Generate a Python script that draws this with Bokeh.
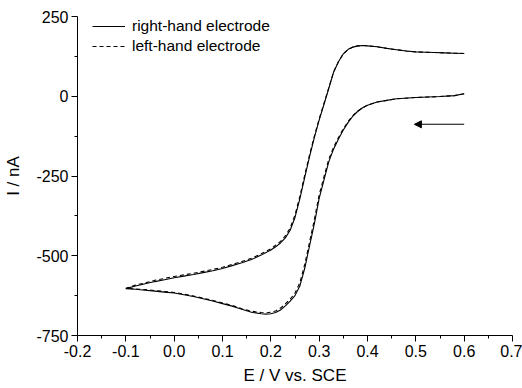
from bokeh.plotting import figure
from bokeh.models import (Range1d, FixedTicker, PrintfTickFormatter, Legend, LegendItem,
                          Arrow, NormalHead, ColumnDataSource)
from bokeh.embed import file_html
from bokeh.resources import INLINE

# ---- data ----
# potential sweep: 0.6 V -> -0.1 V (forward), then -0.1 V -> 0.6 V (reverse)
E_fwd = [0.60, 0.58, 0.55, 0.50, 0.46, 0.44, 0.42, 0.40, 0.39, 0.38, 0.37, 0.36, 0.35,
         0.34, 0.33, 0.32, 0.31, 0.30, 0.29, 0.28, 0.27, 0.26, 0.25, 0.24, 0.23, 0.22,
         0.21, 0.20, 0.19, 0.18, 0.16, 0.14, 0.12, 0.10, 0.08, 0.06, 0.04, 0.02, 0.00,
         -0.02, -0.04, -0.06, -0.08, -0.10]
I_right_fwd = [8, 2, -1, -4, -8, -13, -18, -28, -36, -47, -62, -82, -106,
               -134, -165, -205, -262, -320, -400, -470, -540, -595, -625, -642, -657, -670,
               -678, -682, -683, -682, -677, -668, -658, -650, -642, -635, -628, -622, -617,
               -614, -611, -608, -605, -603]
I_left_fwd = [8, 2, -1, -4, -8, -13, -18, -28, -36, -46, -60, -79, -102,
              -129, -159, -197, -252, -309, -387, -458, -528, -585, -617, -636, -651, -664,
              -673, -677, -679, -678, -674, -666, -656, -648, -640, -633, -626, -620, -615,
              -612, -609, -606, -604, -602]

E_rev = [-0.10, -0.08, -0.06, -0.04, -0.02, 0.00, 0.02, 0.04, 0.06, 0.08, 0.10, 0.12,
         0.14, 0.16, 0.18, 0.20, 0.21, 0.22, 0.23, 0.24, 0.25, 0.26, 0.27, 0.28, 0.29,
         0.30, 0.31, 0.32, 0.33, 0.34, 0.35, 0.36, 0.37, 0.38, 0.39, 0.40, 0.42, 0.44,
         0.46, 0.48, 0.50, 0.52, 0.54, 0.56, 0.58, 0.60]
I_right_rev = [-603, -595, -588, -581, -575, -569, -564, -559, -553, -547, -540, -531,
               -522, -512, -498, -482, -472, -460, -444, -420, -380, -322, -255, -190, -130,
               -75, -25, 25, 76, 108, 133, 147, 154, 158, 159, 158, 155, 150,
               146, 142, 139, 138, 137, 136, 135, 134]
I_left_rev = [-602, -592, -585, -577, -571, -565, -560, -555, -549, -543, -536, -527,
              -518, -508, -494, -478, -467, -455, -438, -413, -372, -314, -248, -184, -125,
              -71, -22, 27, 77, 109, 133, 147, 154, 158, 159, 158, 155, 150,
              146, 142, 139, 138, 137, 136, 135, 134]

series_labels = ["right-hand electrode", "left-hand electrode"]
x_title = "E / V vs. SCE"
y_title = "I / nA"
x_ticks = [-0.2, -0.1, 0.0, 0.1, 0.2, 0.3, 0.4, 0.5, 0.6, 0.7]
y_ticks = [-750, -500, -250, 0, 250]
arrow_E = [0.60, 0.497]
arrow_I = -88

FONT = "Liberation Sans"

p = figure(width=522, height=388, output_backend="svg", toolbar_location=None,
           x_range=Range1d(-0.2, 0.7), y_range=Range1d(-750, 250),
           min_border_left=77, min_border_right=10, min_border_top=16, min_border_bottom=53)
p.outline_line_color = None
p.xgrid.visible = False
p.ygrid.visible = False
p.background_fill_color = "white"
p.border_fill_color = "white"

E_r = E_fwd + E_rev[1:]
I_r = I_right_fwd + I_right_rev[1:]
I_l = I_left_fwd + I_left_rev[1:]
src = ColumnDataSource(dict(E=E_r, Ir=I_r, Il=I_l))

r1 = p.line("E", "Ir", source=src, line_color="black", line_width=1.1)
r2 = p.line("E", "Il", source=src, line_color="black", line_width=1.1, line_dash="4 3")

legend = Legend(items=[LegendItem(label=series_labels[0], renderers=[r1]),
                       LegendItem(label=series_labels[1], renderers=[r2])],
                location=(15, 279), padding=0, margin=0, spacing=0,
                glyph_width=33, glyph_height=20, label_height=20, label_standoff=7,
                border_line_alpha=0, background_fill_alpha=0,
                label_text_font=FONT, label_text_font_size="15.5px", label_text_color="black")
p.add_layout(legend)

p.add_layout(Arrow(end=NormalHead(size=7, fill_color="black", line_color="black"),
                   x_start=arrow_E[0], y_start=arrow_I, x_end=arrow_E[1], y_end=arrow_I,
                   line_color="black", line_width=1.1))

minor_x = [round(-0.15 + 0.1 * i, 3) for i in range(9)]
minor_y = [-625, -375, -125, 125]
p.xaxis.ticker = FixedTicker(ticks=x_ticks, minor_ticks=minor_x)
p.yaxis.ticker = FixedTicker(ticks=y_ticks, minor_ticks=minor_y)
p.xaxis.formatter = PrintfTickFormatter(format="%.1f")
p.yaxis.formatter = PrintfTickFormatter(format="%d")

for ax in (p.xaxis[0], p.yaxis[0]):
    ax.axis_line_color = "black"
    ax.major_tick_line_color = "black"
    ax.minor_tick_line_color = "black"
    ax.major_tick_out = 6
    ax.major_tick_in = 0
    ax.minor_tick_out = 3
    ax.minor_tick_in = 0
    ax.major_label_text_font = FONT
    ax.major_label_text_font_size = "16px"
    ax.major_label_text_color = "black"
    ax.axis_label_text_font = FONT
    ax.axis_label_text_font_size = "17px"
    ax.axis_label_text_font_style = "normal"
    ax.axis_label_text_color = "black"

p.xaxis.axis_label = x_title
p.yaxis.axis_label = y_title
p.xaxis.major_label_standoff = 3
p.xaxis.axis_label_standoff = 6
p.yaxis.major_label_standoff = 3
p.yaxis.axis_label_standoff = 10

open("out.html", "w").write(file_html(p, INLINE))
